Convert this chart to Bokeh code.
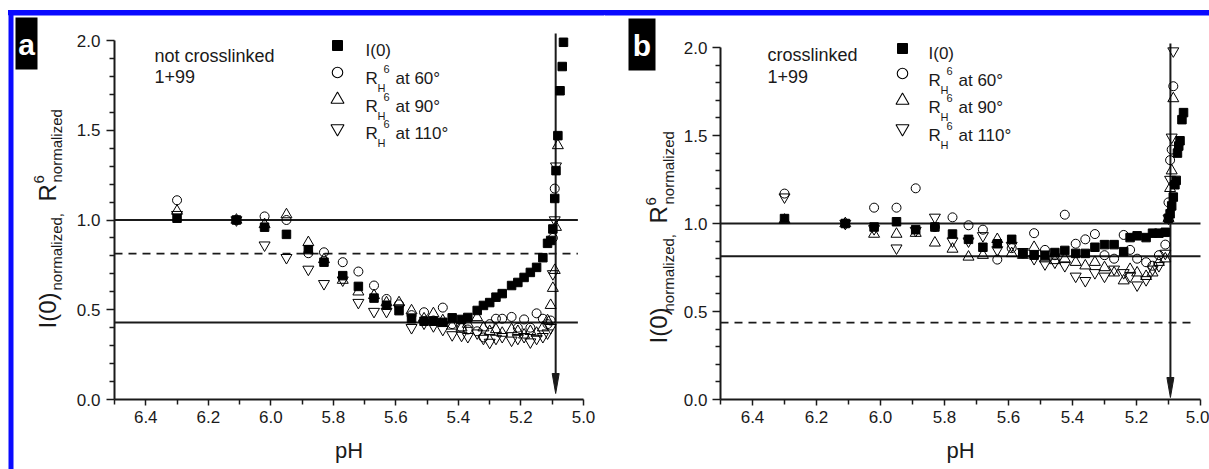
import math
from bokeh.plotting import figure
from bokeh.models import (ColumnDataSource, Range1d, FixedTicker, PrintfTickFormatter, Label)
from bokeh.layouts import row
from bokeh.embed import file_html
from bokeh.resources import INLINE

FONT = "Liberation Sans"
NAN = float("nan")

# ---------------- panel a: not crosslinked, 1+99 ----------------
PH_A = [6.30, 6.11, 6.02, 5.95, 5.88, 5.83, 5.77, 5.72, 5.67, 5.63,
        5.59, 5.55, 5.51, 5.48, 5.45, 5.42, 5.39, 5.37, 5.34, 5.32,
        5.30, 5.28, 5.26, 5.23, 5.21, 5.19, 5.17, 5.15, 5.13, 5.115,
        5.105, 5.098, 5.092, 5.088, 5.082, 5.075, 5.068, 5.064]
I0_A = [1.01, 1.00, 0.96, 0.92, 0.835, 0.765, 0.69, 0.63, 0.565, 0.525,
        0.495, 0.45, 0.436, 0.436, 0.43, 0.455, 0.446, 0.457, 0.496, 0.524,
        0.54, 0.57, 0.59, 0.635, 0.652, 0.68, 0.708, 0.736, 0.79, 0.87,
        0.886, 0.95, 1.12, 1.275, 1.47, 1.72, 1.855, 1.99]
R60_A = [1.11, 1.00, 1.02, 1.00, 0.815, 0.82, 0.765, 0.713, 0.635, 0.56,
         0.53, 0.47, 0.486, 0.44, 0.512, 0.42, 0.40, 0.39, 0.38, 0.346,
         0.42, 0.45, 0.45, 0.46, 0.40, 0.446, 0.40, 0.48, 0.45, 0.42,
         0.44, 0.90, 1.175, NAN, NAN, NAN, NAN, NAN]
R90_A = [1.05, 1.00, 0.975, 1.03, 0.875, 0.78, 0.665, 0.60, 0.58, 0.54,
         0.54, 0.495, 0.45, 0.479, 0.44, 0.41, 0.40, 0.42, 0.457, 0.40,
         0.38, 0.39, 0.37, 0.39, 0.38, 0.36, 0.38, 0.37, 0.40, 0.44,
         0.525, 0.62, 0.72, 0.96, 1.415, NAN, NAN, NAN]
R110_A = [1.03, 1.00, 0.86, 0.79, 0.725, 0.645, 0.665, 0.54, 0.49, 0.49,
          0.51, 0.40, 0.425, 0.41, 0.39, 0.36, 0.357, 0.35, 0.37, 0.34,
          0.318, 0.34, 0.35, 0.33, 0.34, 0.35, 0.32, 0.34, 0.35, 0.37,
          0.40, 0.70, 1.00, 1.30, NAN, NAN, NAN, NAN]
SOLID_A = [1.0, 0.429]
DASHED_A = [0.813]
ARROW_PH_A = 5.089

# ---------------- panel b: crosslinked, 1+99 ----------------
PH_B = [6.30, 6.11, 6.02, 5.95, 5.89, 5.83, 5.775, 5.725, 5.68, 5.635,
        5.59, 5.555, 5.52, 5.486, 5.455, 5.424, 5.39, 5.36, 5.33, 5.30,
        5.27, 5.24, 5.22, 5.198, 5.17, 5.15, 5.13, 5.11, 5.10, 5.095,
        5.09, 5.085, 5.08, 5.076, 5.072, 5.068, 5.064, 5.058, 5.053]
I0_B = [1.028, 1.00, 0.98, 1.01, 0.965, 0.98, 0.94, 0.91, 0.865, 0.885,
        0.91, 0.83, 0.82, 0.82, 0.835, 0.847, 0.83, 0.83, 0.865, 0.88,
        0.88, 0.84, 0.92, 0.93, 0.92, 0.945, 0.945, 0.95, 1.03, 1.055,
        1.10, 1.15, 1.22, 1.245, 1.40, 1.44, 1.47, 1.59, 1.63]
R60_B = [1.17, 1.00, 1.09, 1.09, 1.20, 0.98, 1.035, 0.99, 0.965, 0.795,
         0.86, 0.83, 0.945, 0.85, 0.82, 1.05, 0.885, 0.91, 0.94, 0.82,
         0.80, 0.935, 0.85, 0.80, 0.78, 0.76, 0.82, 0.88, 1.12, 1.36,
         1.42, 1.78, NAN, NAN, NAN, NAN, NAN, NAN, NAN]
R90_B = [1.02, 1.00, 0.94, 0.94, 0.945, 0.89, 0.855, 0.81, 0.82, 0.91,
         0.83, 0.82, 0.865, 0.80, 0.79, 0.80, 0.78, 0.76, 0.78, 0.75,
         0.72, 0.675, 0.74, 0.72, 0.70, 0.72, 0.78, 0.80, 1.03, 1.20,
         1.30, 1.71, NAN, NAN, NAN, NAN, NAN, NAN, NAN]
R110_B = [1.15, 1.00, 0.97, 0.86, 0.96, 1.035, 0.90, 0.90, 0.93, 0.85,
          0.875, 0.84, 0.80, 0.77, 0.78, 0.76, 0.70, 0.675, 0.72, 0.70,
          0.74, 0.72, 0.70, 0.65, 0.68, 0.74, 0.76, 0.83, 1.03, 1.25,
          1.49, 1.98, NAN, NAN, NAN, NAN, NAN, NAN, NAN]
SOLID_B = [1.0, 0.814]
DASHED_B = [0.437]
ARROW_PH_B = 5.094

# ---------------- axes ----------------
X_MAJOR = [6.4, 6.2, 6.0, 5.8, 5.6, 5.4, 5.2, 5.0]
X_MINOR = [6.5, 6.3, 6.1, 5.9, 5.7, 5.5, 5.3, 5.1]
Y_MAJOR = [0.0, 0.5, 1.0, 1.5, 2.0]
Y_MINOR = [0.1, 0.2, 0.3, 0.4, 0.6, 0.7, 0.8, 0.9, 1.1, 1.2, 1.3, 1.4,
           1.6, 1.7, 1.8, 1.9]
ANGLES = ["60°", "90°", "110°"]

PH_LEFT, PH_RIGHT = 6.5, 5.0
Y_BOTTOM, Y_TOP = 0.0, 2.0
PAGE_H = 469
INK = "#1a1a1a"
BLUE = "#0a0aff"


def make_panel(cfg):
    # axes_px = page pixels of pH 6.5, pH 5.0, y 2.0, y 0.0
    ax0, ax1, ay0, ay1 = cfg["axes_px"]
    left, width = cfg["fig_left"], cfg["fig_width"]

    def m(px, py):
        x = PH_LEFT + (px - ax0) / (ax1 - ax0) * (PH_RIGHT - PH_LEFT)
        y = Y_TOP - (py - ay0) / (ay1 - ay0) * (Y_TOP - Y_BOTTOM)
        return x, y

    ppx = (ax1 - ax0) / abs(PH_RIGHT - PH_LEFT)
    ppy = (ay1 - ay0) / (Y_TOP - Y_BOTTOM)

    xs, ys_top = m(left, 0)
    xe, ys_bot = m(left + width, PAGE_H)
    p = figure(width=width, height=PAGE_H, output_backend="svg",
               toolbar_location=None,
               x_range=Range1d(xs, xe), y_range=Range1d(ys_bot, ys_top),
               min_border=0, min_border_left=0, min_border_right=0,
               min_border_top=0, min_border_bottom=0)
    p.grid.visible = False
    p.outline_line_color = None
    # transparent canvas: the page background (white with the blue rule) shows through
    p.background_fill_alpha = 0
    p.border_fill_alpha = 0

    p.xaxis.fixed_location = Y_BOTTOM
    p.yaxis.fixed_location = PH_LEFT
    p.xaxis.bounds = (PH_RIGHT, PH_LEFT)
    p.yaxis.bounds = (Y_BOTTOM, Y_TOP)
    p.xaxis.ticker = FixedTicker(ticks=X_MAJOR, minor_ticks=X_MINOR)
    p.yaxis.ticker = FixedTicker(ticks=Y_MAJOR, minor_ticks=Y_MINOR)
    p.xaxis.formatter = PrintfTickFormatter(format="%.1f")
    p.yaxis.formatter = PrintfTickFormatter(format="%.1f")
    for ax in (p.xaxis, p.yaxis):
        ax.axis_line_width = 2
        ax.axis_line_color = INK
        ax.major_tick_line_color = INK
        ax.minor_tick_line_color = INK
        ax.major_tick_line_width = 1.5
        ax.minor_tick_line_width = 1.5
        ax.major_tick_in = 0
        ax.minor_tick_in = 0
        ax.major_label_text_font = FONT
        ax.major_label_text_font_size = "17px"
        ax.major_label_text_color = INK
    p.xaxis.major_tick_out = 6
    p.xaxis.minor_tick_out = 5
    p.yaxis.major_tick_out = 8
    p.yaxis.minor_tick_out = 5
    p.xaxis.major_label_standoff = 5
    p.yaxis.major_label_standoff = cfg["ylab_standoff"]
    p.xaxis.axis_label = "pH"
    p.xaxis.axis_label_text_font = FONT
    p.xaxis.axis_label_text_font_size = "22px"
    p.xaxis.axis_label_text_font_style = "normal"
    p.xaxis.axis_label_text_color = INK
    p.xaxis.axis_label_standoff = 12

    def text(px, py, s, size, align="left", baseline="alphabetic", angle=0.0,
             color=INK, style="normal"):
        x, y = m(px, py)
        p.add_layout(Label(x=x, y=y, text=s, text_font=FONT, text_font_size=f"{size}px",
                           text_align=align, text_baseline=baseline, angle=angle,
                           text_color=color, text_font_style=style))

    def box(px0, px1, py0, py1, color):
        x0, y0 = m(px0, py1)
        x1, y1 = m(px1, py0)
        p.quad(left=[x0], right=[x1], bottom=[y0], top=[y1],
               fill_color=color, line_color=None)

    # blue frame segments (overshooting the canvas edge is clipped away)
    for (x0_, x1_, y0_, y1_) in cfg["frame_bars"]:
        box(x0_, x1_, y0_, y1_, BLUE)

    # reference levels
    for lvl in cfg["solid"]:
        p.segment(x0=PH_LEFT, y0=lvl, x1=cfg["line_end"], y1=lvl,
                  line_color=INK, line_width=1.8)
    for lvl in cfg["dashed"]:
        p.segment(x0=PH_LEFT, y0=lvl, x1=cfg["dash_end"], y1=lvl,
                  line_color=INK, line_width=1.8, line_dash="8 6")

    # vertical arrow marking the transition pH
    aph = cfg["arrow_ph"]
    _, y_top = m(0, cfg["arrow_top"])
    _, y_tip = m(0, cfg["arrow_tip"])
    head_len = 20 / ppy
    half_w = 3.5 / ppx
    p.segment(x0=aph, y0=y_top, x1=aph, y1=y_tip + head_len * 0.5,
              line_width=2, line_color=INK)
    p.patch(x=[aph + half_w, aph, aph - half_w],
            y=[y_tip + head_len, y_tip, y_tip + head_len],
            fill_color=INK, line_color=INK, line_width=1)

    src = ColumnDataSource(dict(ph=cfg["ph"], i0=cfg["i0"], r60=cfg["r60"],
                                r90=cfg["r90"], r110=cfg["r110"]))
    p.scatter("ph", "i0", source=src, marker="square", size=8.5,
              fill_color="black", line_color="black")
    p.scatter("ph", "r60", source=src, marker="circle", size=9,
              fill_color=None, line_color="black", line_width=1)
    p.scatter("ph", "r90", source=src, marker="triangle", size=11,
              fill_color=None, line_color="black", line_width=1)
    p.scatter("ph", "r110", source=src, marker="inverted_triangle", size=11,
              fill_color=None, line_color="black", line_width=1)

    # legend: symbols and texts
    gx = cfg["legend_glyph_x"]
    rows_px = cfg["legend_rows"]
    lx, _ = m(gx, 0)
    ly = [m(0, r)[1] for r in rows_px]
    p.scatter(x=[lx], y=[ly[0]], marker="square", size=10,
              fill_color="black", line_color="black")
    p.scatter(x=[lx], y=[ly[1]], marker="circle", size=10.5,
              fill_color=None, line_color="black", line_width=1.1)
    p.scatter(x=[lx], y=[ly[2]], marker="triangle", size=13,
              fill_color=None, line_color="black", line_width=1.1)
    p.scatter(x=[lx], y=[ly[3]], marker="inverted_triangle", size=13,
              fill_color=None, line_color="black", line_width=1.1)

    tx = cfg["legend_text_x"]
    b0, b1, b2, b3 = cfg["legend_baselines"]
    text(tx, b0, "I(0)", 17)
    for base, ang in zip((b1, b2, b3), ANGLES):
        text(tx, base, "R", 17)
        text(tx + 12, base + 9, "H", 11)
        text(tx + 18, base - 10, "6", 11)
        text(tx + 30, base, "at " + ang, 17)

    # sample description
    dx, d0, d1 = cfg["desc_pos"]
    text(dx, d0, cfg["desc"], 18)
    text(dx, d1, "1+99", 18)

    # panel tag
    bx0, bx1, by0, by1 = cfg["tag_box"]
    box(bx0, bx1, by0, by1, "black")
    text((bx0 + bx1) / 2, (by0 + by1) / 2 + 1, cfg["tag"], 30, align="center",
         baseline="middle", color="white", style="bold")

    # rotated y-axis title
    yl = cfg["ylabel"]
    a = math.pi / 2
    text(yl["main_x"], yl["i0_y"], "I(0)", 24, angle=a)
    text(yl["sub_x"], yl["sub1_y"], "normalized,", 15, angle=a)
    text(yl["main_x"], yl["r_y"], "R", 24, angle=a)
    text(yl["sup_x"], yl["sup_y"], "6", 15, angle=a)
    text(yl["sub_x"], yl["sub2_y"], "normalized", 15, angle=a)
    return p


panel_a = make_panel(dict(
    axes_px=(114, 583, 40, 399), fig_left=0, fig_width=604, ylab_standoff=6,
    ph=PH_A, i0=I0_A, r60=R60_A, r90=R90_A, r110=R110_A,
    solid=SOLID_A, dashed=DASHED_A, line_end=5.018, dash_end=5.018,
    arrow_ph=ARROW_PH_A, arrow_top=33, arrow_tip=393,
    legend_glyph_x=337, legend_rows=(45, 72, 99, 128),
    legend_text_x=365, legend_baselines=(50, 78, 106, 133),
    desc="not crosslinked", desc_pos=(154, 55, 76),
    tag="a", tag_box=(15, 37, 17, 69),
    ylabel=dict(main_x=47, sub_x=56, sup_x=38, i0_y=328, sub1_y=290, r_y=201,
                sup_y=183, sub2_y=182),
    frame_bars=[(8, 610, 10, 15), (8, 13, 10, 475)],
))

panel_b = make_panel(dict(
    axes_px=(720, 1200, 47, 399), fig_left=604, fig_width=605, ylab_standoff=5,
    ph=PH_B, i0=I0_B, r60=R60_B, r90=R90_B, r110=R110_B,
    solid=SOLID_B, dashed=DASHED_B, line_end=5.0, dash_end=5.03,
    arrow_ph=ARROW_PH_B, arrow_top=43, arrow_tip=397,
    legend_glyph_x=902, legend_rows=(48, 73, 100, 128),
    legend_text_x=928, legend_baselines=(53, 80, 107, 135),
    desc="crosslinked", desc_pos=(767, 54, 76),
    tag="b", tag_box=(628, 655, 18, 70),
    ylabel=dict(main_x=658, sub_x=668, sup_x=650, i0_y=343, sub1_y=311, r_y=223,
                sup_y=205, sub2_y=204),
    frame_bars=[(598, 1215, 10, 15)],
))

# page band behind both canvases: white, with the blue top rule starting at x = 8
PAGE_BG = ("linear-gradient(to right, white 8px, transparent 8px), "
           f"linear-gradient(to bottom, white 10px, {BLUE} 10px, {BLUE} 15px, white 15px)")
layout = row(panel_a, panel_b, spacing=0, styles={"background": PAGE_BG})
open("out.html", "w").write(file_html(layout, INLINE))
